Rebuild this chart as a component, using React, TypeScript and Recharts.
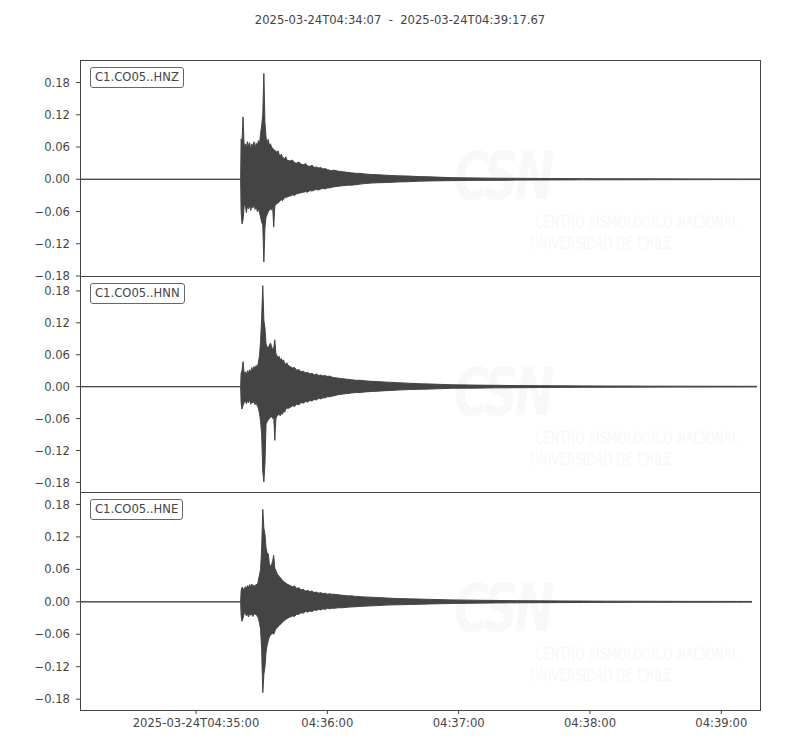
import React from 'react';
import { AreaChart, Area, XAxis, YAxis } from 'recharts';

// seconds after 2025-03-24T04:34:07
const timeSec = [
  0, 73.4, 73.6, 74.0,
  74.5, 75, 75.5, 76, 76.5, 77, 77.5, 78, 78.5, 79, 79.5, 80, 80.5, 81, 81.5, 82, 82.5,
  83, 83.5, 84, 84.5, 85, 85.5, 86, 86.5, 87, 87.5, 88, 88.5, 89, 89.5, 90, 90.5, 91,
  91.5, 92, 92.5, 93, 93.5, 94, 94.5, 95,
  96, 97, 98, 99, 100, 101, 102, 103, 104, 105, 106, 107, 108, 109, 110, 111, 112, 113, 114, 115, 116,
  118, 120, 122, 124, 126, 128, 130,
  133, 136, 140, 145, 150, 155, 160,
  170, 180, 190, 200, 210, 220, 230, 240, 250, 260, 270, 280, 290, 300,
  307, 309.3, 310.67,
];

const hnzHigh = [
  0, 0, 0.075, 0.07,
  0.116, 0.06, 0.066, 0.058, 0.07, 0.062, 0.068, 0.055, 0.066, 0.06, 0.07, 0.058, 0.067, 0.062, 0.072, 0.065, 0.085,
  0.1, 0.12, 0.197, 0.105, 0.078, 0.07, 0.074, 0.063, 0.066, 0.06, 0.058, 0.055, 0.054, 0.052, 0.05, 0.053, 0.046,
  0.044, 0.047, 0.041, 0.04, 0.038, 0.042, 0.036, 0.035,
  0.034, 0.036, 0.031, 0.03, 0.032, 0.028, 0.027, 0.029, 0.025, 0.024, 0.026, 0.022, 0.023, 0.021, 0.022, 0.019, 0.02, 0.018, 0.017, 0.016, 0.017,
  0.015, 0.014, 0.013, 0.012, 0.011, 0.011, 0.01,
  0.009, 0.0085, 0.0075, 0.0065, 0.006, 0.005, 0.0045,
  0.003, 0.0025, 0.002, 0.0018, 0.0015, 0.0013, 0.0012, 0.001, 0.001, 0.0009, 0.0008, 0.0007, 0.0007, 0.0006,
  0.0006, 0.0006, 0.0006,
];
const hnzLow = [
  0, 0, -0.06, -0.083,
  -0.075, -0.05, -0.046, -0.062, -0.05, -0.055, -0.048, -0.058, -0.05, -0.053, -0.047, -0.056, -0.05, -0.06, -0.055, -0.062, -0.07,
  -0.08, -0.085, -0.154, -0.09, -0.07, -0.066, -0.06, -0.058, -0.055, -0.057, -0.05, -0.089, -0.05, -0.047, -0.045, -0.044, -0.042,
  -0.04, -0.038, -0.04, -0.036, -0.035, -0.033, -0.034, -0.032,
  -0.031, -0.029, -0.03, -0.027, -0.026, -0.025, -0.024, -0.023, -0.024, -0.021, -0.022, -0.02, -0.019, -0.02, -0.018, -0.017, -0.018, -0.016, -0.016, -0.015, -0.014,
  -0.013, -0.012, -0.011, -0.011, -0.01, -0.009, -0.008,
  -0.007, -0.0065, -0.006, -0.005, -0.0045, -0.0035, -0.003,
  -0.0025, -0.002, -0.002, -0.0015, -0.0013, -0.0012, -0.001, -0.001, -0.0009, -0.0008, -0.0007, -0.0007, -0.0006, -0.0006,
  -0.0006, -0.0006, -0.0006,
];

const hnnHigh = [
  0, 0, 0.025, 0.03,
  0.047, 0.024, 0.028, 0.022, 0.03, 0.026, 0.032, 0.027, 0.036, 0.03, 0.038, 0.033, 0.04, 0.035, 0.045, 0.058, 0.085,
  0.13, 0.19, 0.125, 0.11, 0.08, 0.075, 0.072, 0.078, 0.082, 0.076, 0.07, 0.072, 0.088, 0.062, 0.058, 0.055, 0.057,
  0.05, 0.053, 0.048, 0.05, 0.044, 0.042, 0.045, 0.04,
  0.038, 0.035, 0.036, 0.031, 0.032, 0.028, 0.029, 0.026, 0.027, 0.024, 0.025, 0.022, 0.024, 0.021, 0.022, 0.02, 0.021, 0.019, 0.02, 0.018, 0.017,
  0.016, 0.015, 0.014, 0.013, 0.012, 0.012, 0.011,
  0.01, 0.0095, 0.0085, 0.0075, 0.0065, 0.0055, 0.005,
  0.0035, 0.003, 0.0025, 0.002, 0.0018, 0.0016, 0.0014, 0.0012, 0.0011, 0.001, 0.0009, 0.0008, 0.0008, 0.0007,
  0.0007, 0.0006, null,
];
const hnnLow = [
  0, 0, -0.03, -0.042,
  -0.035, -0.03, -0.026, -0.032, -0.027, -0.03, -0.024, -0.033, -0.028, -0.031, -0.027, -0.034, -0.03, -0.036, -0.04, -0.05, -0.065,
  -0.09, -0.16, -0.179, -0.145, -0.07, -0.066, -0.062, -0.06, -0.058, -0.056, -0.06, -0.055, -0.101, -0.06, -0.055, -0.053, -0.052,
  -0.055, -0.05, -0.052, -0.046, -0.048, -0.042, -0.04, -0.041,
  -0.039, -0.036, -0.037, -0.033, -0.034, -0.03, -0.031, -0.028, -0.029, -0.026, -0.027, -0.024, -0.025, -0.022, -0.023, -0.021, -0.021, -0.019, -0.019, -0.018, -0.017,
  -0.015, -0.014, -0.013, -0.012, -0.011, -0.011, -0.01,
  -0.009, -0.0085, -0.0075, -0.0065, -0.0055, -0.005, -0.0045,
  -0.003, -0.0028, -0.0022, -0.002, -0.0016, -0.0014, -0.0012, -0.0011, -0.001, -0.0009, -0.0008, -0.0008, -0.0007, -0.0007,
  -0.0006, -0.0006, null,
];

const hneHigh = [
  0, 0, 0.02, 0.027,
  0.025, 0.022, 0.028, 0.024, 0.03, 0.026, 0.032, 0.027, 0.033, 0.028, 0.031, 0.026, 0.033, 0.03, 0.04, 0.05, 0.06,
  0.1, 0.171, 0.136, 0.125, 0.1, 0.09, 0.089, 0.07, 0.066, 0.068, 0.075, 0.086, 0.062, 0.058, 0.052, 0.05, 0.047,
  0.045, 0.042, 0.04, 0.038, 0.036, 0.035, 0.033, 0.032,
  0.03, 0.028, 0.029, 0.025, 0.026, 0.022, 0.023, 0.02, 0.021, 0.019, 0.02, 0.017, 0.018, 0.016, 0.017, 0.015, 0.016, 0.014, 0.015, 0.014, 0.014,
  0.013, 0.012, 0.011, 0.011, 0.01, 0.0095, 0.009,
  0.0085, 0.008, 0.007, 0.006, 0.0055, 0.005, 0.0045,
  0.0035, 0.003, 0.0025, 0.002, 0.0018, 0.0016, 0.0014, 0.0012, 0.0011, 0.001, 0.0009, 0.0008, 0.0008, 0.0007,
  0.0007, null, null,
];
const hneLow = [
  0, 0, -0.025, -0.036,
  -0.03, -0.022, -0.02, -0.026, -0.022, -0.028, -0.021, -0.025, -0.022, -0.027, -0.021, -0.024, -0.022, -0.027, -0.03, -0.04, -0.05,
  -0.09, -0.168, -0.134, -0.12, -0.093, -0.08, -0.072, -0.065, -0.062, -0.06, -0.058, -0.06, -0.055, -0.05, -0.048, -0.046, -0.044,
  -0.042, -0.04, -0.038, -0.036, -0.034, -0.033, -0.031, -0.03,
  -0.028, -0.026, -0.027, -0.023, -0.023, -0.02, -0.021, -0.018, -0.019, -0.017, -0.018, -0.015, -0.016, -0.014, -0.015, -0.013, -0.014, -0.012, -0.013, -0.012, -0.012,
  -0.011, -0.011, -0.01, -0.0095, -0.009, -0.0085, -0.008,
  -0.0075, -0.007, -0.006, -0.0055, -0.005, -0.0045, -0.004,
  -0.003, -0.0025, -0.002, -0.0018, -0.0016, -0.0014, -0.0012, -0.0011, -0.001, -0.0009, -0.0008, -0.0008, -0.0007, -0.0007,
  -0.0006, null, null,
];

const channelNames = ['C1.CO05..HNZ', 'C1.CO05..HNN', 'C1.CO05..HNE'];
const yTicks = [-0.18, -0.12, -0.06, 0, 0.06, 0.12, 0.18];
const xTickValues = [53, 113, 173, 233, 293];
const xTickLabels = ['2025-03-24T04:35:00', '04:36:00', '04:37:00', '04:38:00', '04:39:00'];
const titleText = '2025-03-24T04:34:07  -  2025-03-24T04:39:17.67';
const watermarkMain = 'CSN';
const watermarkLine1 = 'CENTRO SISMOLOGICO NACIONAL';
const watermarkLine2 = 'UNIVERSIDAD DE CHILE';

const FONT = '"DejaVu Sans", sans-serif';
const INK = '#444444';
const FS = 11.6;

const panels = [
  { name: channelNames[0], high: hnzHigh, low: hnzLow, top: 60, height: 216, domain: [-0.18, 0.222] },
  { name: channelNames[1], high: hnnHigh, low: hnnLow, top: 276, height: 216, domain: [-0.198, 0.208] },
  { name: channelNames[2], high: hneHigh, low: hneLow, top: 492, height: 218, domain: [-0.2, 0.203] },
];

const fmtY = (v: number) => {
  if (Math.abs(v) < 1e-9) return '0.00';
  return v < 0 ? '\u2212' + Math.abs(v).toFixed(2) : v.toFixed(2);
};
const fmtX = (v: number) => {
  const i = xTickValues.indexOf(v);
  return i >= 0 ? xTickLabels[i] : '';
};

function Watermark({ top }: { top: number }) {
  const c = '#f8f8f8';
  const cond = '"DejaVu Sans Condensed", "DejaVu Sans", sans-serif';
  return (
    <div style={{ position: 'absolute', left: 80, top, width: 680, height: 216, pointerEvents: 'none', overflow: 'hidden' }}>
      <div style={{ position: 'absolute', left: 374, top: 82, fontFamily: cond, fontWeight: 'bold', fontStyle: 'italic', fontSize: 66, color: c, lineHeight: '70px', letterSpacing: -4, transform: 'scaleX(0.8)', transformOrigin: 'left top' }}>{watermarkMain}</div>
      <div style={{ position: 'absolute', left: 455, top: 152, fontFamily: cond, fontSize: 17, color: c, whiteSpace: 'nowrap', transform: 'scaleX(0.78)', transformOrigin: 'left top' }}>{watermarkLine1}</div>
      <div style={{ position: 'absolute', left: 450, top: 173, fontFamily: cond, fontSize: 17, color: c, whiteSpace: 'nowrap', transform: 'scaleX(0.78)', transformOrigin: 'left top' }}>{watermarkLine2}</div>
    </div>
  );
}

export default function App() {
  return (
    <div style={{ position: 'relative', width: 800, height: 750, marginLeft: -8, marginTop: -8, background: '#fff', fontFamily: FONT, overflow: 'hidden' }}>
      <div style={{ position: 'absolute', left: 0, top: 13, width: 800, textAlign: 'center', fontSize: FS, color: INK, whiteSpace: 'pre' }}>{titleText}</div>
      {panels.map((p) => <Watermark key={'w' + p.name} top={p.top} />)}
      {panels.map((p, idx) => {
        const last = idx === panels.length - 1;
        const rows = timeSec.map((t, i) => ({
          t,
          v: p.high[i] == null || p.low[i] == null ? null : [p.low[i], p.high[i]],
        }));
        const h = p.height + 20 + (last ? 30 : 0);
        return (
          <div key={p.name} style={{ position: 'absolute', left: 0, top: p.top - 10 }}>
            <AreaChart width={800} height={h} data={rows} margin={{ top: 10, right: 40, bottom: 10, left: 0 }}>
              <XAxis
                type="number"
                dataKey="t"
                domain={[0, 310.67]}
                ticks={xTickValues}
                interval={0}
                tickFormatter={fmtX}
                hide={!last}
                height={30}
                tickSize={4}
                tickMargin={5}
                axisLine={false}
                tickLine={{ stroke: INK }}
                tick={{ fill: INK, fontSize: FS, fontFamily: FONT }}
                allowDataOverflow
              />
              <YAxis
                type="number"
                domain={p.domain}
                ticks={yTicks}
                interval={0}
                tickFormatter={fmtY}
                width={80}
                tickSize={4}
                tickMargin={6}
                axisLine={false}
                tickLine={{ stroke: INK }}
                tick={{ fill: INK, fontSize: FS, fontFamily: FONT }}
                allowDataOverflow
              />
              <Area
                type="linear"
                dataKey="v"
                stroke={INK}
                strokeWidth={1}
                fill={INK}
                fillOpacity={1}
                dot={false}
                activeDot={false}
                connectNulls={false}
                isAnimationActive={false}
              />
            </AreaChart>
          </div>
        );
      })}
      {panels.map((p) => (
        <div key={'b' + p.name} style={{ position: 'absolute', left: 80, top: p.top, width: 681, height: p.height + 1, border: `1px solid ${INK}`, boxSizing: 'border-box', pointerEvents: 'none' }} />
      ))}
      {panels.map((p) => (
        <div key={'l' + p.name} style={{ position: 'absolute', left: 90, top: p.top + 7, padding: '3px 4px', border: '1px solid #666', borderRadius: 3, background: '#fff', fontSize: FS, lineHeight: '13px', color: INK, whiteSpace: 'nowrap' }}>{p.name}</div>
      ))}
    </div>
  );
}
